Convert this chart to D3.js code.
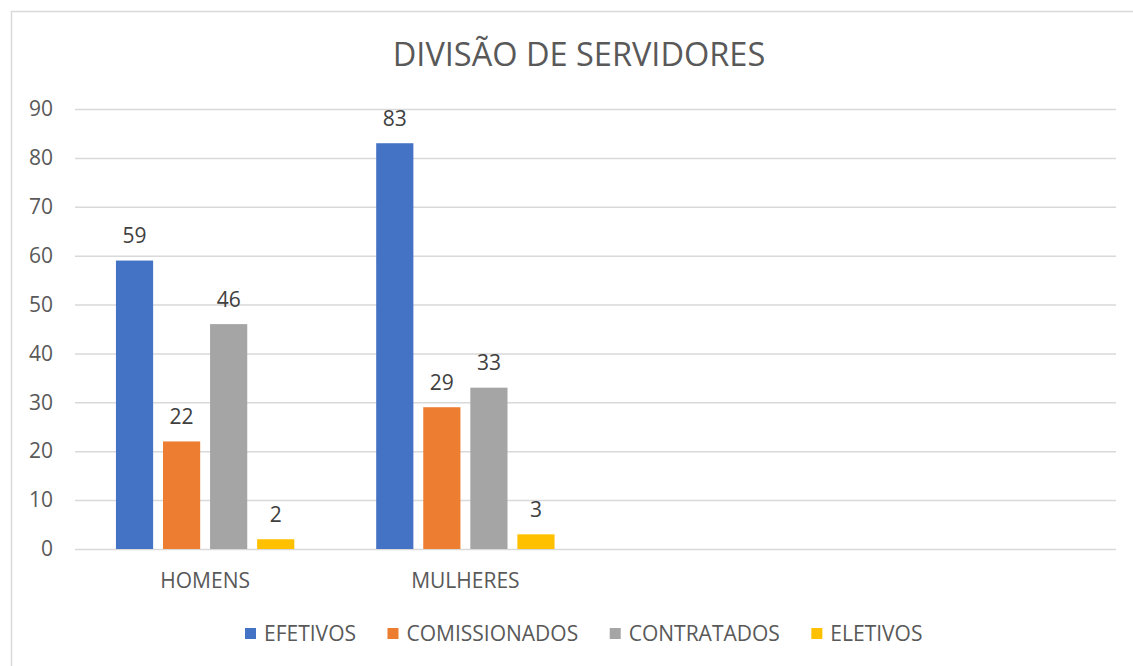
<!DOCTYPE html>
<html>
<head>
<meta charset="utf-8">
<script src="https://cdn.jsdelivr.net/npm/d3@7"></script>
<style>
  html, body { margin: 0; padding: 0; background: #fff; }
  svg { display: block; }
  text { font-family: "Open Sans", "Noto Sans", sans-serif; fill: #595959; }
</style>
</head>
<body>
<svg id="chart" width="1133" height="666"></svg>
<script>
const title = "DIVISÃO DE SERVIDORES";
// Excel chart has 4 category slots; the last two are empty
const categories = ["HOMENS", "MULHERES", "", ""];
const seriesNames = ["EFETIVOS", "COMISSIONADOS", "CONTRATADOS", "ELETIVOS"];
const efetivos = [59, 83, null, null];
const comissionados = [22, 29, null, null];
const contratados = [46, 33, null, null];
const eletivos = [2, 3, null, null];
const yTicks = [0, 10, 20, 30, 40, 50, 60, 70, 80, 90];
const colors = ["#4472C4", "#ED7D31", "#A5A5A5", "#FFC000"];

const seriesValues = [efetivos, comissionados, contratados, eletivos];

(function () {
const svg = d3.select("#chart");
const W = 1133, H = 666;
const FS = 21;

svg.append("rect").attr("x", 0).attr("y", 0).attr("width", W).attr("height", H).attr("fill", "#fff");
// chart area border (cropped on right/bottom)
svg.append("rect").attr("x", 11.5).attr("y", 11.5).attr("width", 1300).attr("height", 800)
  .attr("fill", "none").attr("stroke", "#d9d9d9").attr("stroke-width", 1.5);

const pLeft = 75, pRight = 1116, pTop = 109, pBottom = 549;

const x0 = d3.scaleBand().domain(d3.range(categories.length)).range([pLeft, pRight]).padding(0);
const x1 = d3.scaleBand().domain(seriesNames).range([0, x0.bandwidth()]).paddingInner(0.21).paddingOuter(0.87);
const y = d3.scaleLinear().domain([0, 90]).range([pBottom, pTop]);
const color = d3.scaleOrdinal().domain(seriesNames).range(colors);

// gridlines + y labels
const yAxis = svg.append("g").attr("transform", `translate(${pLeft},0)`)
  .call(d3.axisLeft(y).tickValues(yTicks).tickSize(-(pRight - pLeft)).tickPadding(22));
yAxis.select(".domain").remove();
yAxis.selectAll(".tick line").attr("stroke", "#d9d9d9").attr("stroke-width", 1.5);
yAxis.selectAll(".tick text").style("font-size", FS + "px").attr("fill", "#595959")
  .style("font-family", '"Open Sans", sans-serif');

// x axis labels
const xAxis = svg.append("g").attr("transform", `translate(0,${pBottom})`)
  .call(d3.axisBottom(x0).tickSize(0).tickPadding(24).tickFormat(i => categories[i]));
xAxis.select(".domain").remove();
xAxis.selectAll(".tick text").style("font-size", FS + "px").attr("fill", "#595959")
  .style("font-family", '"Open Sans", sans-serif');

// bars
const data = [];
categories.forEach((c, i) => {
  seriesNames.forEach((s, j) => {
    const v = seriesValues[j][i];
    if (v != null) data.push({ ci: i, s, v });
  });
});

svg.append("g").selectAll("rect").data(data).join("rect")
  .attr("x", d => x0(d.ci) + x1(d.s))
  .attr("y", d => y(d.v))
  .attr("width", x1.bandwidth())
  .attr("height", d => y(0) - y(d.v))
  .attr("fill", d => color(d.s));

// value labels
svg.append("g").selectAll("text").data(data).join("text")
  .attr("x", d => x0(d.ci) + x1(d.s) + x1.bandwidth() / 2)
  .attr("y", d => y(d.v) - 17.5)
  .attr("text-anchor", "middle")
  .style("font-size", FS + "px")
  .style("fill", "#404040")
  .text(d => d.v);

// title
svg.append("text").attr("x", 579).attr("y", 65.5).attr("text-anchor", "middle")
  .style("font-size", "32.5px").text(title);

// legend
const legend = svg.append("g");
let lx = 245;
seriesNames.forEach((s, j) => {
  legend.append("rect").attr("x", lx).attr("y", 628).attr("width", 11).attr("height", 11).attr("fill", colors[j]);
  const t = legend.append("text").attr("x", lx + 19).attr("y", 641).style("font-size", FS + "px").text(s);
  const w = t.node().getComputedTextLength();
  lx = lx + 19 + w + 31.5;
});
})();
</script>
</body>
</html>
